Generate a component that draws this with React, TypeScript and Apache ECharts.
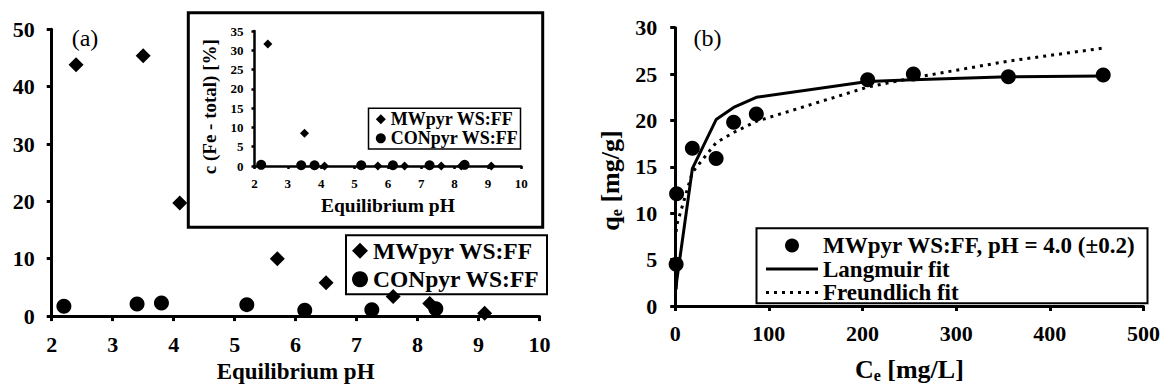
import React, { useEffect, useRef } from "react";
import * as echarts from "echarts";

// ---- Panel (a): main plot ----
const mwPH = [2.4, 3.5, 4.1, 5.7, 6.5, 7.6, 8.2, 9.1];
const mwFe = [43.8, 45.4, 19.7, 10.0, 5.8, 3.4, 2.2, 0.5];
const conPH = [2.2, 3.4, 3.8, 5.2, 6.15, 7.25, 8.3];
const conFe = [1.7, 2.1, 2.3, 2.0, 1.0, 1.1, 1.3];

// ---- Panel (a): inset ----
const insetMwFe = [31.6, 8.5, 0, 0, 0, 0, 0, 0];
const insetConFe = [0.3, 0.2, 0.2, 0.2, 0.2, 0.2, 0.3];

// ---- Panel (b) ----
const ce = [1.0, 1.5, 18.3, 43.7, 62.4, 86.6, 205.5, 254.3, 355.7, 457];
const qe = [4.5, 12.1, 17.0, 15.9, 19.8, 20.7, 24.4, 25.0, 24.7, 24.9];
const langmuirQ = [1.8, 2.6, 14.8, 20.1, 21.4, 22.5, 24.2, 24.4, 24.7, 24.8];
const freundlichQ = [8.0, 8.7, 14.4, 17.6, 18.7, 19.9, 23.6, 24.6, 26.4, 27.8];

const nameMW = "MWpyr WS:FF";
const nameCON = "CONpyr WS:FF";
const nameData = "MWpyr WS:FF, pH = 4.0 (±0.2)";
const nameLang = "Langmuir fit";
const nameFreu = "Freundlich fit";
const insetYTitle = "c (Fe - total) [%]";

const FONT = "'Liberation Serif', 'Times New Roman', serif";
const BLACK = "#000";

const ICON_SOLID = "path://M0,0h52v3h-52z";
const ICON_DOTTED =
  "path://M0,0h3v3h-3z M8,0h3v3h-3z M16,0h3v3h-3z M24,0h3v3h-3z M32,0h3v3h-3z M40,0h3v3h-3z M49,0h3v3h-3z";

const zip = (a: number[], b: number[]) => a.map((v, i) => [v, b[i]]);

function axisBase(width: number, fontSize: number, margin: number, tickLen: number) {
  return {
    type: "value" as const,
    axisLine: { show: true, onZero: false, lineStyle: { color: BLACK, width } },
    axisTick: { show: true, length: tickLen, lineStyle: { color: BLACK, width } },
    splitLine: { show: false },
    axisLabel: { fontSize, fontWeight: "bold", color: BLACK, fontFamily: FONT, margin },
  };
}

const subRich = {
  a: { fontSize: 26, fontWeight: "bold", fontFamily: FONT, fill: BLACK, color: BLACK },
  s: { fontSize: 16, fontWeight: "bold", fontFamily: FONT, fill: BLACK, color: BLACK, padding: [12, 0, 0, 0] },
};

export default function App() {
  const ref = useRef<HTMLDivElement>(null);
  useEffect(() => {
    if (!ref.current) return;
    const chart = echarts.init(ref.current, undefined, { renderer: "svg" });
    const sym = { color: BLACK, opacity: 1 };
    const option: any = {
      animation: false,
      textStyle: { fontFamily: FONT, color: BLACK },
      grid: [
        { left: 51.7, top: 29.3, width: 487.8, height: 297.4 },
        { left: 254.5, top: 31, width: 266.8, height: 135 },
        { left: 675.2, top: 27.7, width: 468.5, height: 286.6 },
      ],
      xAxis: [
        {
          ...axisBase(3, 22, 17, 5),
          gridIndex: 0, min: 2, max: 10, interval: 1,
          name: "Equilibrium pH", nameLocation: "middle", nameGap: 38,
          nameTextStyle: { fontSize: 23, fontWeight: "bold", color: BLACK, fontFamily: FONT },
        },
        {
          ...axisBase(2.5, 13, 11, 3),
          gridIndex: 1, min: 2, max: 10, interval: 1,
          name: "Equilibrium pH", nameLocation: "middle", nameGap: 29,
          nameTextStyle: { fontSize: 19.5, fontWeight: "bold", color: BLACK, fontFamily: FONT },
        },
        {
          ...axisBase(3, 22, 16, 5),
          gridIndex: 2, min: 0, max: 500, interval: 100,
          name: "{a|C}{s|e}{a| [mg/L]}", nameLocation: "middle", nameGap: 49,
          nameTextStyle: { fontSize: 26, fontWeight: "bold", color: BLACK, fontFamily: FONT, rich: subRich },
        },
      ],
      yAxis: [
        { ...axisBase(3, 22, 17, 5), gridIndex: 0, min: 0, max: 50, interval: 10 },
        { ...axisBase(2.5, 13, 11, 3), gridIndex: 1, min: 0, max: 35, interval: 5 },
        { ...axisBase(3, 22, 18, 5), gridIndex: 2, min: 0, max: 30, interval: 5 },
      ],
      legend: [
        {
          left: 352, top: 238.7, orient: "vertical", padding: 0,
          data: [nameMW, nameCON], itemWidth: 16, itemHeight: 16, itemGap: 4.6,
          selectedMode: false,
          textStyle: { fontSize: 23.5, lineHeight: 24, fontWeight: "bold", color: BLACK, fontFamily: FONT },
        },
        {
          left: 375.8, top: 110.3, orient: "vertical", padding: 0,
          data: [nameMW, nameCON], itemWidth: 10, itemHeight: 10, itemGap: 1,
          selectedMode: false,
          textStyle: { fontSize: 18, lineHeight: 18, fontWeight: "bold", color: BLACK, fontFamily: FONT },
        },
        {
          left: 766, top: 234, orient: "vertical", padding: 0,
          data: [
            { name: nameData, icon: "circle" },
            { name: nameLang, icon: ICON_SOLID },
            { name: nameFreu, icon: ICON_DOTTED },
          ],
          itemWidth: 52, itemHeight: 14, itemGap: 0.5,
          selectedMode: false,
          textStyle: { fontSize: 23, lineHeight: 22, fontWeight: "bold", color: BLACK, fontFamily: FONT },
        },
      ],
      graphic: [
        {
          type: "rect", z: -10,
          shape: { x: 188.3, y: 12.7, width: 354.4, height: 214.6 },
          style: { fill: "#fff", stroke: BLACK, lineWidth: 3 },
        },
        {
          type: "rect",
          shape: { x: 346, y: 235.3, width: 201, height: 59 },
          style: { fill: "none", stroke: BLACK, lineWidth: 2 },
        },
        {
          type: "rect",
          shape: { x: 368.5, y: 108.3, width: 152, height: 40.7 },
          style: { fill: "none", stroke: BLACK, lineWidth: 1.5 },
        },
        {
          type: "rect",
          shape: { x: 756.5, y: 228.3, width: 391, height: 75 },
          style: { fill: "none", stroke: BLACK, lineWidth: 2 },
        },
        {
          type: "text",
          style: { text: "(a)", x: 85, y: 38, fill: BLACK, fontSize: 24, fontFamily: FONT, align: "center", verticalAlign: "middle" },
        },
        {
          type: "text",
          style: { text: "(b)", x: 707.6, y: 38, fill: BLACK, fontSize: 24, fontFamily: FONT, align: "center", verticalAlign: "middle" },
        },
        {
          type: "text", x: 209.7, y: 106.7, rotation: Math.PI / 2,
          style: {
            text: insetYTitle, fill: BLACK, fontSize: 19, fontWeight: "bold", fontFamily: FONT,
            align: "center", verticalAlign: "middle",
          },
        },
        {
          type: "text", x: 610.5, y: 180.5, rotation: Math.PI / 2,
          style: {
            text: "{a|q}{s|e}{a| [mg/g]}", rich: subRich, fill: BLACK, fontSize: 26, fontWeight: "bold", fontFamily: FONT,
            align: "center", verticalAlign: "middle",
          },
        },
      ],
      series: [
        {
          type: "scatter", name: nameMW, xAxisIndex: 0, yAxisIndex: 0,
          symbol: "diamond", symbolSize: 15, itemStyle: sym,
          data: zip(mwPH, mwFe),
        },
        {
          type: "scatter", name: nameCON, xAxisIndex: 0, yAxisIndex: 0,
          symbol: "circle", symbolSize: 15, itemStyle: sym,
          data: zip(conPH, conFe),
        },
        {
          type: "scatter", name: nameMW, xAxisIndex: 1, yAxisIndex: 1,
          symbol: "diamond", symbolSize: 9, itemStyle: sym,
          data: zip(mwPH, insetMwFe),
        },
        {
          type: "scatter", name: nameCON, xAxisIndex: 1, yAxisIndex: 1,
          symbol: "circle", symbolSize: 10, itemStyle: sym,
          data: zip(conPH, insetConFe),
        },
        {
          type: "line", name: nameLang, xAxisIndex: 2, yAxisIndex: 2,
          symbol: "none", showSymbol: false, lineStyle: { color: BLACK, width: 3, type: "solid" }, itemStyle: sym,
          data: zip(ce, langmuirQ),
        },
        {
          type: "line", name: nameFreu, xAxisIndex: 2, yAxisIndex: 2,
          symbol: "none", showSymbol: false, lineStyle: { color: BLACK, width: 3, type: [3, 5] }, itemStyle: sym,
          data: zip(ce, freundlichQ),
        },
        {
          type: "scatter", name: nameData, xAxisIndex: 2, yAxisIndex: 2,
          symbol: "circle", symbolSize: 15, itemStyle: sym,
          data: zip(ce, qe),
        },
      ],
    };
    chart.setOption(option);
    return () => chart.dispose();
  }, []);
  return (
    <div
      ref={ref}
      style={{ position: "fixed", left: 0, top: 0, width: 1163, height: 388, background: "#fff" }}
    />
  );
}
